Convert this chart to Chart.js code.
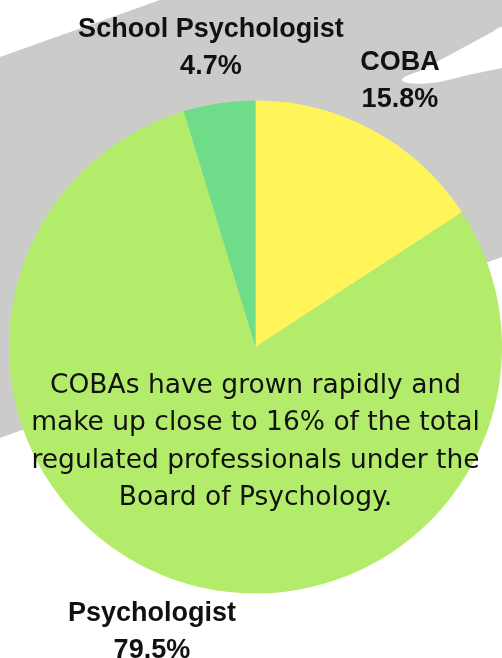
<!DOCTYPE html>
<html>
<head>
<meta charset="utf-8">
<script src="https://cdn.jsdelivr.net/npm/chart.js@4"></script>
<style>
	html, body { margin: 0; padding: 0; background: #fff; }
	#wrap { width: 502px; height: 658px; position: relative; }
</style>
</head>
<body>
<div id="wrap"><canvas id="chart"></canvas></div>
<script>
const labels = ["COBA", "Psychologist", "School Psychologist"];
const shares = [15.8, 79.5, 4.7];
const sliceColors = ["#FFF55A", "#B3EC6A", "#6EDC88"];
const noteLines = [
	"COBAs have grown rapidly and",
	"make up close to 16% of the total",
	"regulated professionals under the",
	"Board of Psychology.",
];

// gray brush stroke behind the pie
const backdrop = {
	id: "backdrop",
	beforeDraw(chart) {
		const ctx = chart.ctx;
		ctx.save();
		ctx.fillStyle = "#fff";
		ctx.fillRect(0, 0, chart.width, chart.height);
		ctx.fillStyle = "#CBCCCA";
		ctx.beginPath();
		ctx.moveTo(0, 57);
		ctx.lineTo(160, 0);
		ctx.lineTo(502, 0);
		ctx.lineTo(502, 257);
		ctx.lineTo(0, 438);
		ctx.closePath();
		ctx.fill();
		// white streak top right
		ctx.fillStyle = "#fff";
		ctx.beginPath();
		ctx.moveTo(402, 81);
		ctx.quadraticCurveTo(400, 77, 420, 71);
		ctx.lineTo(494, 31);
		ctx.quadraticCurveTo(498, 27, 502, 27);
		ctx.lineTo(502, 68);
		ctx.quadraticCurveTo(470, 74, 440, 82);
		ctx.quadraticCurveTo(410, 86, 402, 81);
		ctx.closePath();
		ctx.fill();
		ctx.restore();
	},
};

// slice labels outside the pie and the note inside
const annotations = {
	id: "annotations",
	afterDraw(chart) {
		const ctx = chart.ctx;
		const arcs = chart.getDatasetMeta(0).data;
		ctx.save();
		ctx.textAlign = "center";
		ctx.textBaseline = "middle";
		ctx.fillStyle = "#111";
		ctx.font = "bold 27px 'Liberation Sans', Arial, sans-serif";
		arcs.forEach((arc, i) => {
			const mid = (arc.startAngle + arc.endAngle) / 2;
			const r = arc.outerRadius * 1.23;
			const x = arc.x + Math.cos(mid) * r;
			const y = arc.y + Math.sin(mid) * r;
			ctx.fillText(labels[i], x, y - 18);
			ctx.fillText(shares[i].toFixed(1) + "%", x, y + 19);
		});
		ctx.font = "26.5px 'DejaVu Sans', sans-serif";
		const cx = arcs[0].x;
		noteLines.forEach((line, i) => {
			ctx.fillText(line, cx, 386 + i * 37.5);
		});
		ctx.restore();
	},
};

new Chart(document.getElementById("chart"), {
	type: "pie",
	data: {
		labels: labels,
		datasets: [
			{
				data: shares,
				backgroundColor: sliceColors,
				borderWidth: 0,
			},
		],
	},
	options: {
		responsive: true,
		maintainAspectRatio: false,
		animation: false,
		layout: { padding: { top: 100, bottom: 64, left: 9, right: 0 } },
		plugins: {
			legend: { display: false },
			tooltip: { enabled: false },
		},
	},
	plugins: [backdrop, annotations],
});
</script>
</body>
</html>
